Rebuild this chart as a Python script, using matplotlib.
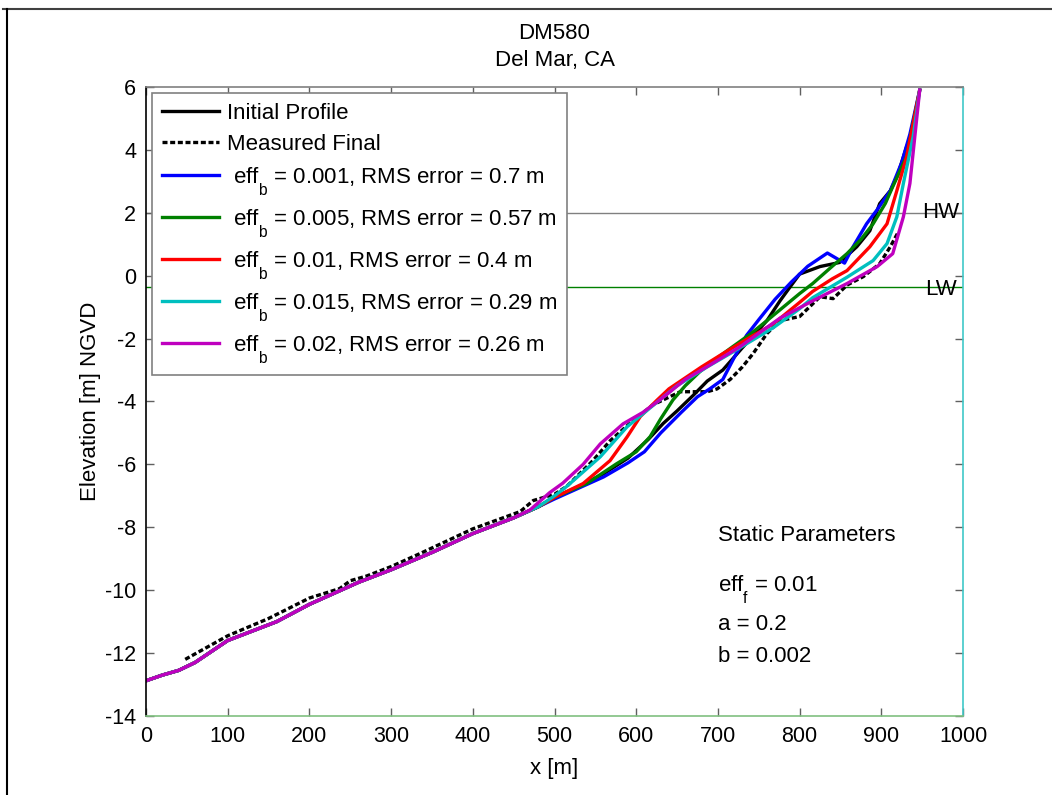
"""
Beach profile evolution at DM580 (Del Mar, CA): initial and measured
profiles against model runs for a range of eff_b values.
"""

import matplotlib.pyplot as plt
import matplotlib._mathtext as mathtext_impl
from matplotlib.lines import Line2D

plt.rcParams["font.family"] = ["Liberation Sans", "DejaVu Sans"]
plt.rcParams["mathtext.fontset"] = "custom"
plt.rcParams["mathtext.rm"] = "Liberation Sans"
plt.rcParams["mathtext.it"] = "Liberation Sans"
plt.rcParams["axes.unicode_minus"] = False
# drop subscripts well below the baseline (eff_b, eff_f)
mathtext_impl.FontConstantsBase.sub1 = 1.0

# offshore part, unchanged by every run
shelf_x = [0, 20, 40, 60, 80, 100, 130, 160, 200, 230, 260, 300, 350, 400, 450, 480]
shelf_y = [-12.88, -12.7, -12.55, -12.3, -11.95, -11.6, -11.3, -11.0, -10.45,
           -10.1, -9.75, -9.35, -8.8, -8.2, -7.7, -7.35]

init_x = [500, 530, 560, 590, 615, 633, 650, 670, 687, 706, 731, 760, 776, 790,
          800, 825, 849, 870, 886, 898, 911, 920, 931]
init_y = [-7.05, -6.7, -6.3, -5.8, -5.2, -4.7, -4.3, -3.8, -3.35, -3.0, -2.26,
          -1.43, -0.8, -0.3, 0.05, 0.29, 0.42, 0.92, 1.43, 2.29, 2.7, 3.2, 4.1]

meas_x = [48, 100, 150, 200, 237, 250, 270, 300, 335, 400, 458, 474, 500, 515,
          547, 568, 596, 621, 654, 687, 699, 715, 730, 743, 760, 776, 800, 825,
          841, 858, 878, 898, 911, 921]
meas_y = [-12.2, -11.45, -10.9, -10.25, -9.95, -9.7, -9.55, -9.25, -8.84, -8.05,
          -7.5, -7.15, -6.95, -6.7, -5.88, -5.25, -4.61, -4.1, -3.69, -3.69, -3.6,
          -3.3, -2.9, -2.48, -1.84, -1.43, -1.3, -0.67, -0.73, -0.3, -0.03, 0.38,
          0.92, 1.4]

eff1_x = [500, 530, 560, 590, 610, 630, 655, 675, 690, 706, 720, 735, 750, 770,
          790, 810, 834, 855, 865, 882, 895, 911, 925, 935, 947]
eff1_y = [-7.1, -6.75, -6.4, -5.95, -5.6, -5.0, -4.35, -3.85, -3.6, -3.3, -2.6,
          -1.9, -1.4, -0.75, -0.2, 0.3, 0.72, 0.4, 0.9, 1.65, 2.1, 2.7, 3.6, 4.5, 5.9]

eff2_x = [500, 540, 576, 600, 617, 630, 645, 660, 678, 700, 718, 740, 760, 780,
          800, 816, 840, 858, 875, 890, 905, 914, 931, 947]
eff2_y = [-7.05, -6.6, -5.98, -5.6, -5.12, -4.55, -3.95, -3.5, -3.05, -2.6, -2.26,
          -1.85, -1.43, -1.0, -0.57, -0.25, 0.3, 0.7, 1.15, 1.65, 2.3, 2.83, 3.8, 5.9]

eff3_x = [500, 535, 568, 589, 605, 625, 640, 660, 680, 706, 740, 768, 800, 816,
          840, 858, 886, 907, 919, 931, 947]
eff3_y = [-7.05, -6.61, -5.88, -5.12, -4.48, -3.97, -3.6, -3.25, -2.9, -2.48,
          -1.95, -1.53, -0.85, -0.5, -0.1, 0.16, 0.92, 1.65, 2.7, 3.78, 5.9]

eff4_x = [500, 515, 556, 589, 613, 650, 687, 720, 768, 800, 816, 858, 890, 907,
          919, 927, 939, 947]
eff4_y = [-7.0, -6.7, -5.76, -4.8, -4.29, -3.5, -2.9, -2.4, -1.65, -1.05, -0.7,
          -0.05, 0.48, 1.02, 1.87, 2.93, 4.42, 5.9]

eff5_x = [470, 494, 510, 535, 556, 584, 608, 629, 660, 687, 727, 776, 816, 858,
          895, 914, 927, 935, 947]
eff5_y = [-7.45, -6.9, -6.6, -6.0, -5.35, -4.71, -4.35, -3.95, -3.3, -2.89, -2.26,
          -1.35, -0.8, -0.25, 0.29, 0.7, 1.87, 2.93, 5.9]

eff_b = ["0.001", "0.005", "0.01", "0.015", "0.02"]
rms = ["0.7", "0.57", "0.4", "0.29", "0.26"]
run_colors = ["#0000ff", "#008000", "#ff0000", "#00bfbf", "#bf00bf"]

hw_level = 2.0
lw_level = -0.35

fig = plt.figure(figsize=(10.52, 7.95), dpi=100)
ax = fig.add_axes([0.1388, 0.0994, 0.7766, 0.7912])

ax.axhline(hw_level, color="#808080", lw=1.0, zorder=1)
ax.axhline(lw_level, color="#008000", lw=1.0, zorder=1)
ax.text(996, hw_level, "HW", ha="right", va="center", fontsize=16)
ax.text(993, lw_level - 0.1, "LW", ha="right", va="center", fontsize=16)

lw = 2.4
ax.plot(shelf_x + init_x, shelf_y + init_y, color="black", lw=lw,
        label="Initial Profile")
ax.plot(meas_x, meas_y, color="black", lw=lw, ls=(0, (1.5, 0.8)),
        label="Measured Final")

runs = [(eff1_x, eff1_y), (eff2_x, eff2_y), (eff3_x, eff3_y),
        (eff4_x, eff4_y), (eff5_x, eff5_y)]
for i, (rx, ry) in enumerate(runs):
    if rx[0] < shelf_x[-1]:
        xs = shelf_x[:-1] + rx
        ys = shelf_y[:-1] + ry
    else:
        xs = shelf_x + rx
        ys = shelf_y + ry
    ax.plot(xs, ys, color=run_colors[i], lw=lw,
            label=rf" eff$_\mathrm{{b}}$ = {eff_b[i]}, RMS error = {rms[i]} m")

ax.set_xlim(0, 1000)
ax.set_ylim(-14, 6)
ax.set_xticks(range(0, 1001, 100))
ax.set_yticks(range(-14, 7, 2))
ax.tick_params(direction="in", length=6, width=1, labelsize=15.5, pad=7,
               top=True, right=True, color="#606060")

ax.spines["left"].set_color("black")
ax.spines["top"].set_color("#808080")
ax.spines["right"].set_color("#40c8c8")
ax.spines["bottom"].set_color("#80c080")
for s in ax.spines.values():
    s.set_linewidth(1.2)

ax.set_xlabel("x [m]", fontsize=16, labelpad=8)
ax.set_ylabel("Elevation [m] NGVD", fontsize=16, labelpad=3)
ax.set_title("DM580\nDel Mar, CA", fontsize=16, pad=15, linespacing=1.4)

leg = ax.legend(loc="upper left", fontsize=16, handlelength=2.6,
                handletextpad=0.35, borderaxespad=0.25, borderpad=0.45,
                fancybox=False, framealpha=1, edgecolor="#808080",
                labelspacing=0.45)
leg.get_frame().set_linewidth(1.2)

ax.text(700, -8.25, "Static Parameters", fontsize=16, va="center")
ax.text(700, -9.95, r"eff$_\mathrm{f}$ = 0.01", fontsize=16, va="center")
ax.text(700, -11.1, "a = 0.2", fontsize=16, va="center")
ax.text(700, -12.1, "b = 0.002", fontsize=16, va="center")

# frame lines around the figure window
fig.add_artist(Line2D([0.003, 1.0], [0.9887, 0.9887], color="#404040", lw=1.5))
fig.add_artist(Line2D([0.0067, 0.0067], [0.0, 0.9887], color="black", lw=1.5))

fig.savefig("out.png", dpi=100)
